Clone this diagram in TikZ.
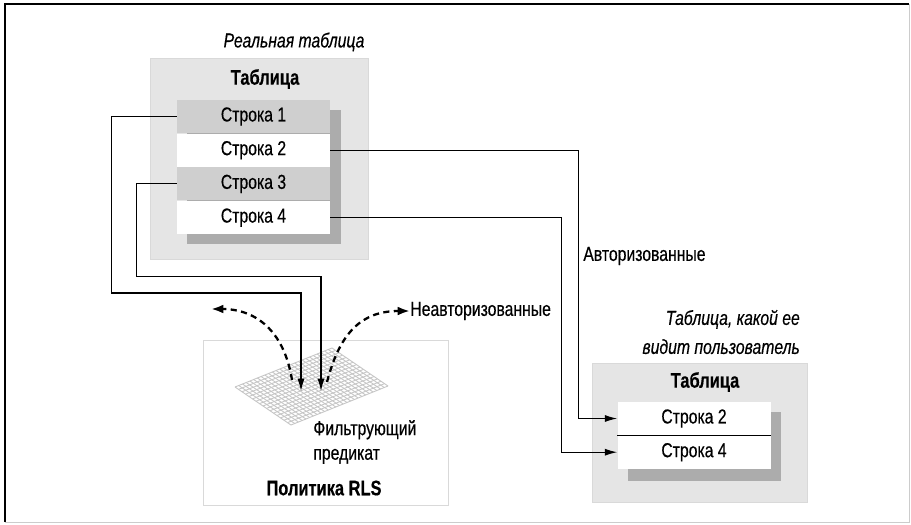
\documentclass[tikz,border=0pt]{standalone}
\usepackage{fontspec}
\setmainfont{Liberation Sans}[FakeStretch=0.78, FakeBold=0.4]
\usetikzlibrary{positioning, arrows.meta, calc}
\tikzset{
x=0.02cm, y=-0.02cm, % one unit is one pixel of the original, y grows downward
every node/.style={font=\fontsize{11.5}{14}\selectfont}, % condensed sans for all labels
row/.style={minimum width=3.06cm, minimum height=0.66cm, inner sep=0pt, fill=white}, % one row of a table
greyrow/.style={row, fill=gray!38}, % a row the policy filters out
tablebox/.style={fill=gray!20, draw=gray!30}, % grey panel behind a table
shadow/.style={fill=gray!65}, % drop shadow of the rows
title/.style={font=\fontsize{12}{13}\selectfont\bfseries},
caption/.style={font=\fontsize{11.5}{16.5}\selectfont\itshape},
label/.style={anchor=west, inner sep=0pt},
link/.style={line width=0.6pt, -{Latex[length=7pt, width=4pt]}}, % row connectors
deny/.style={line width=1.3pt, dash pattern=on 3.5pt off 2.5pt, -{Latex[length=7pt, width=5pt]}}, % rejected rows
}

\begin{document}
\begin{tikzpicture}
\useasboundingbox (0,0) rectangle (911,524);

% frame
\draw[gray!40] (5,4) rectangle (909,522);
\draw[line width=1.2pt] (5,522) -- (5,4) -- (909,4);

% the real table
\node[caption] at (294,42) (realcap) {Реальная таблица};
\draw[tablebox] (150,58) rectangle (368,259);
\node[title] at (265,79) (realtitle) {Таблица};
\fill[shadow] (187,110) rectangle (341,244);
\node[greyrow] at (253.5,116.5) (r1) {Строка 1};
\node[row, below=0pt of r1] (r2) {Строка 2};
\node[greyrow, below=0pt of r2] (r3) {Строка 3};
\node[row, below=0pt of r3] (r4) {Строка 4};

% the RLS policy with its filter
\draw[gray!30, fill=white] (203,340) rectangle (448,505);
\coordinate (gl) at (235,387);
\coordinate (gt) at (332,348);
\coordinate (gb) at (291,425);
\coordinate (gr) at (388,386);
\foreach \i in {0,...,26}
  \draw[gray!45, line width=0.5pt] ($(gl)!\i/26!(gt)$) -- ($(gb)!\i/26!(gr)$);
\foreach \i in {0,...,16}
  \draw[gray!45, line width=0.5pt] ($(gl)!\i/16!(gb)$) -- ($(gt)!\i/16!(gr)$);
\node[label, align=left] at (313,442) (pred) {Фильтрующий\\предикат};
\node[title] at (324,488) (rls) {Политика RLS};

\coordinate (f1) at (301,391);
\coordinate (f3) at (321,391);
\draw[link] (r1.west) -- ++(-65,0) -- ++(0,176.5) -| (f1);
\draw[link] (r3.west) -- ++(-40,0) -- ++(0,92.5) -| (f3);

% rows that are turned away
\coordinate (d1) at (292,380);
\coordinate (d3) at (327,382);
\coordinate (out1) at (211,309);
\node[label] at (410,311) (unauth) {Неавторизованные};
\draw[deny] (d1) .. controls (284,330) and (255,309) .. (out1);
\draw[deny] (d3) .. controls (340,332) and (362,311) .. (unauth.west);

% the table as the user sees it
\node[caption, anchor=east, align=right] at (806,332) (usercap) {Таблица, какой ее\\видит пользователь};
\draw[tablebox] (592,363) rectangle (807,502);
\node[title] at (705,382) (usertitle) {Таблица};
\fill[shadow] (628,412) rectangle (781,481);
\node[row] at (694,418.5) (s2) {Строка 2};
\node[row, below=0pt of s2] (s4) {Строка 4};
\draw (s2.south west) -- (s2.south east);

\draw[link] (r2.east) -- ++(248,0) |- (s2.west);
\draw[link] (r4.east) -- ++(231,0) |- (s4.west);
\node[label] at (583,256) (auth) {Авторизованные};
\end{tikzpicture}
\end{document}
